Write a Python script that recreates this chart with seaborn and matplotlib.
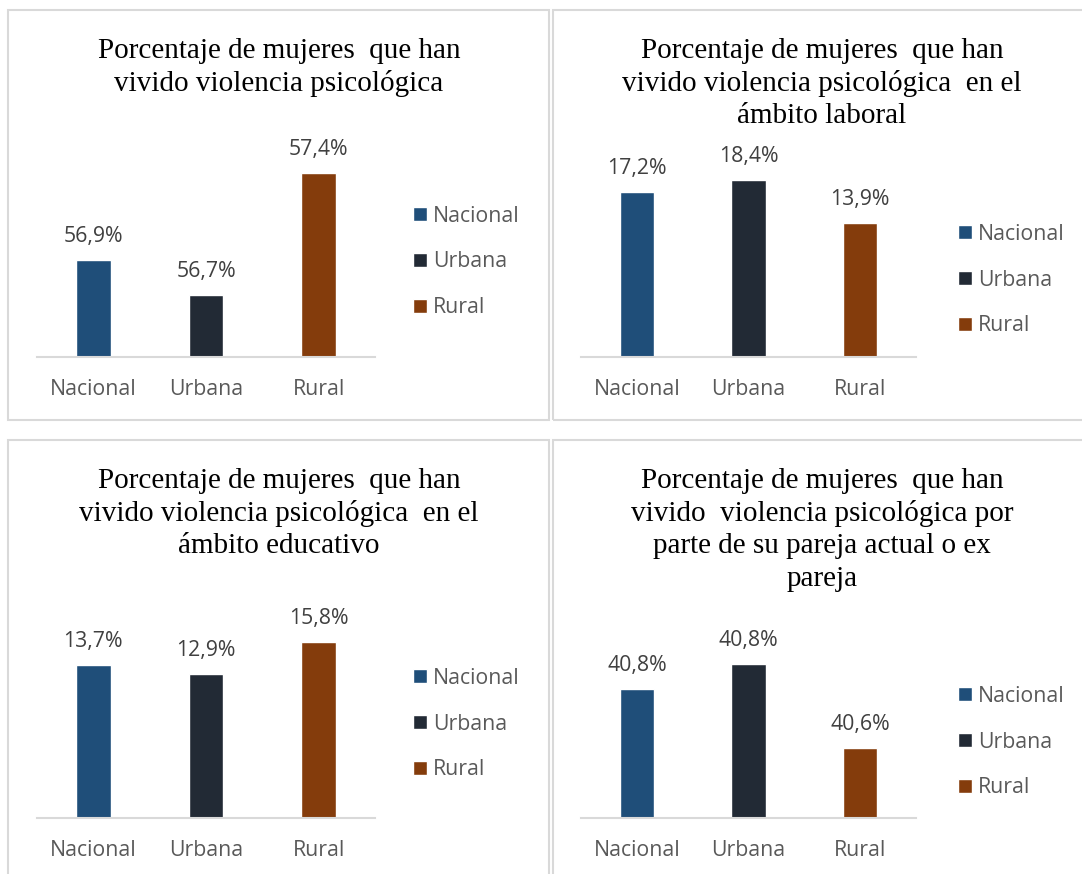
import matplotlib
matplotlib.use("Agg")
import matplotlib.pyplot as plt
import seaborn as sns
import pandas as pd
from matplotlib.patches import Rectangle

# Categories and colours
zonas = ["Nacional", "Urbana", "Rural"]
colores = ["#1F4E79", "#222A35", "#843C0C"]

# Percentages per chart
psicologica = [56.9, 56.7, 57.4]
laboral = [17.2, 18.4, 13.9]
educativo = [13.7, 12.9, 15.8]
pareja = [40.77, 40.84, 40.60]

titulos = [
    ["Porcentaje de mujeres  que han", "vivido violencia psicológica"],
    ["Porcentaje de mujeres  que han", "vivido violencia psicológica  en el",
     "ámbito laboral"],
    ["Porcentaje de mujeres  que han", "vivido violencia psicológica  en el",
     "ámbito educativo"],
    ["Porcentaje de mujeres  que han", "vivido  violencia psicológica por",
     "parte de su pareja actual o ex", "pareja"],
]

W, H = 1082, 874
sns.set_style("white")
plt.rcParams["font.family"] = ["Open Sans", "DejaVu Sans"]

fig = plt.figure(figsize=(W / 100, H / 100), dpi=100)
fig.patch.set_facecolor("white")


def fbox(x0, y0, x1, y1):
    return [x0 / W, 1 - y1 / H, (x1 - x0) / W, (y1 - y0) / H]


# panel frames (pixel boxes)
for (x0, y0, x1, y1) in [(8, 10, 549, 420), (553, 10, 1095, 420),
                         (8, 440, 549, 890), (553, 440, 1095, 890)]:
    fig.add_artist(Rectangle((x0 / W, 1 - y1 / H), (x1 - x0) / W, (y1 - y0) / H,
                             transform=fig.transFigure, fill=False,
                             ec="#D9D9D9", lw=1.5))

paneles = [
    (psicologica, titulos[0], (37, 150, 375, 357), (56.345, 57.535), 279, 58, (413, 262)),
    (laboral, titulos[1], (581, 150, 916, 357), (0, 21.52), 822, 58, (958, 280)),
    (educativo, titulos[2], (37, 600, 375, 818), (0, 19.53), 279, 488, (413, 724)),
    (pareja, titulos[3], (581, 600, 916, 818), (40.4, 41.023), 822, 488, (958, 742)),
]

for valores, lineas, caja, lims, tx, tb, (lx, ly) in paneles:
    ax = fig.add_axes(fbox(*caja))
    df = pd.DataFrame({"zona": zonas, "valor": valores})
    sns.barplot(data=df, x="zona", y="valor", hue="zona", palette=colores,
                width=0.31, legend=False, ax=ax, saturation=1)
    ax.set_ylim(*lims)
    ax.set_xlim(-0.5, 2.5)
    ax.set_yticks([])
    ax.set_xlabel("")
    ax.set_ylabel("")
    sns.despine(ax=ax, left=True)
    ax.spines["bottom"].set_color("#D9D9D9")
    ax.spines["bottom"].set_linewidth(1.5)
    ax.tick_params(axis="x", length=0, pad=15.5, labelsize=15.3,
                   labelcolor="#595959")

    for cont, v in zip(ax.containers, valores):
        bar = cont[0]
        xc = bar.get_x() + bar.get_width() / 2
        ax.annotate(f"{v:.1f}%".replace(".", ","), (xc, v), xytext=(0, 18),
                    textcoords="offset pixels", ha="center", va="baseline",
                    fontsize=15.3, color="#404040")

    ax.legend(handles=ax.containers, labels=zonas, loc="center left",
              bbox_to_anchor=(lx / W, 1 - ly / H), bbox_transform=fig.transFigure,
              frameon=False, borderpad=0, borderaxespad=0,
              handlelength=0.65, handleheight=0.65, handletextpad=0.3,
              labelspacing=1.16, fontsize=15.3, labelcolor="#595959")

    for i, linea in enumerate(lineas):
        fig.text(tx / W, 1 - (tb + i * 32.7) / H, linea, ha="center",
                 va="baseline", fontsize=21, family="Liberation Serif",
                 color="black")

fig.savefig("out.png", dpi=100, facecolor="white")
